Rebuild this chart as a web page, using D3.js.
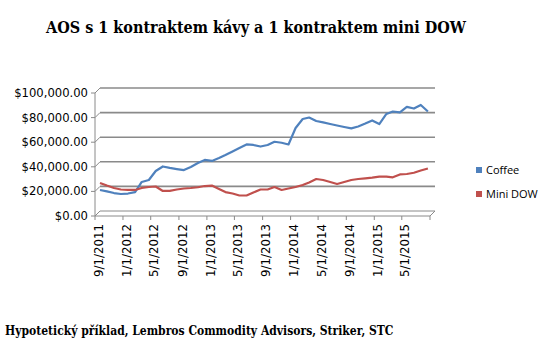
<!DOCTYPE html>
<html>
<head>
<meta charset="utf-8">
<script src="https://cdn.jsdelivr.net/npm/d3@7"></script>
<style>
  body { margin: 0; background: #fff; }
  svg { display: block; }
</style>
</head>
<body>
<div id="chart"></div>
<script>
// monthly values, 9/2011 .. 8/2015 (in dollars)
var coffee = [17100, 15900, 14600, 13800, 14200, 15400, 23600, 25200, 32500, 36200, 35000, 34100,
              33300, 35800, 39000, 41500, 40700, 43100, 45500, 48400, 51200, 54100, 53700, 52400,
              53700, 56300, 55500, 54100, 67500, 74800, 76000, 73200, 72000, 70700, 69500, 68300,
              67200, 68700, 71100, 73600, 70700, 78900, 80900, 80200, 84600, 83300, 86200, 80900];
var miniDow = [22800, 20700, 18700, 17500, 17100, 17100, 18700, 19500, 19900, 16300, 16300, 17500,
               18300, 18700, 19300, 20300, 20700, 17900, 15400, 14200, 12600, 12600, 15000, 17500,
               17500, 19500, 17100, 18300, 19500, 21100, 23200, 26000, 25200, 23600, 22000, 23600,
               25200, 26000, 26600, 27200, 28000, 28000, 27400, 29700, 30100, 31100, 32900, 34600];
var seriesNames = ["Coffee", "Mini DOW"];
var colors = ["#4F81BD", "#C0504D"];
var yTicks = [0, 20000, 40000, 60000, 80000, 100000];
var xTickLabels = ["9/1/2011", "1/1/2012", "5/1/2012", "9/1/2012", "1/1/2013", "5/1/2013",
                   "9/1/2013", "1/1/2014", "5/1/2014", "9/1/2014", "1/1/2015", "5/1/2015"];

var width = 557, height = 362;
var svg = d3.select("#chart").append("svg").attr("width", width).attr("height", height);

var start = new Date(2011, 8, 1), end = new Date(2015, 8, 1);
var months = d3.timeMonth.range(start, end);
var depth = 5; // 3d wall offset

var xFront = d3.scaleTime().domain([start, end]).range([95, 430]);
var xBack = d3.scaleTime().domain([start, end]).range([95 + depth, 430 + depth]);
var yFront = d3.scaleLinear().domain([0, 100000]).range([216, 93]);
var yBack = d3.scaleLinear().domain([0, 100000]).range([216 - depth, 93 - depth]);

var gridColor = "#8a8a8a";

// back wall gridlines
svg.selectAll("line.grid").data(yTicks.slice(1)).enter().append("line")
    .attr("class", "grid")
    .attr("x1", xBack(start)).attr("x2", xBack(end))
    .attr("y1", function(d){ return yBack(d); }).attr("y2", function(d){ return yBack(d); })
    .style("stroke", gridColor).style("stroke-width", 1.6);

// left side diagonals from axis ticks to wall
svg.selectAll("line.diag").data(yTicks).enter().append("line")
    .attr("x1", xFront(start)).attr("y1", function(d){ return yFront(d); })
    .attr("x2", xBack(start)).attr("y2", function(d){ return yBack(d); })
    .style("stroke", gridColor).style("stroke-width", 1);

// floor
var floor = [[xFront(start), yFront(0)], [xFront(end), yFront(0)], [xBack(end), yBack(0)], [xBack(start), yBack(0)]];
svg.append("path")
    .attr("d", d3.line()(floor) + "Z")
    .style("fill", "#fff").style("stroke", gridColor).style("stroke-width", 1);

// y axis
svg.append("line")
    .attr("x1", xFront(start)).attr("x2", xFront(start))
    .attr("y1", yFront(100000)).attr("y2", yFront(0))
    .style("stroke", gridColor).style("stroke-width", 1);
svg.selectAll("line.ytick").data(yTicks).enter().append("line")
    .attr("x1", xFront(start) - 4).attr("x2", xFront(start))
    .attr("y1", function(d){ return yFront(d); }).attr("y2", function(d){ return yFront(d); })
    .style("stroke", gridColor);
var fmt = d3.format("$,.2f");
svg.selectAll("text.ylab").data(yTicks).enter().append("text")
    .attr("x", 88).attr("y", function(d){ return yFront(d); })
    .attr("dy", "0.35em")
    .attr("text-anchor", "end")
    .style("font-family", "'DejaVu Sans', sans-serif").style("font-size", "11.6px").style("fill", "#000")
    .text(function(d){ return fmt(d); });

// x ticks
var xTicks = d3.timeMonth.every(4).range(start, d3.timeMonth.offset(end, 1));
svg.selectAll("line.xtick").data(xTicks).enter().append("line")
    .attr("x1", function(d){ return xFront(d); }).attr("x2", function(d){ return xFront(d); })
    .attr("y1", yFront(0)).attr("y2", yFront(0) + 4)
    .style("stroke", gridColor);
svg.selectAll("text.xlab").data(xTickLabels).enter().append("text")
    .attr("transform", function(d, i){ return "translate(" + (xFront(xTicks[i]) + 3.5) + "," + 224 + ") rotate(-90)"; })
    .attr("dy", "0.35em")
    .attr("text-anchor", "end")
    .style("font-family", "'DejaVu Sans', sans-serif").style("font-size", "11.8px").style("fill", "#000")
    .text(function(d){ return d; });

// series
var line = d3.line()
    .x(function(d, i){ return xBack(months[i]); })
    .y(function(d){ return yBack(d); });
[coffee, miniDow].forEach(function(s, k){
    svg.append("path")
        .attr("d", line(s))
        .style("fill", "none")
        .style("stroke", colors[k])
        .style("stroke-width", 2.2)
        .style("stroke-linejoin", "round");
});

// legend
var legend = svg.selectAll("g.legend").data(seriesNames).enter().append("g")
    .attr("transform", function(d, i){ return "translate(476," + (167 + i * 24) + ")"; });
legend.append("rect").attr("width", 6).attr("height", 6)
    .style("fill", function(d, i){ return colors[i]; });
legend.append("text").attr("x", 10).attr("y", 3).attr("dy", "0.35em")
    .style("font-family", "'Open Sans', sans-serif").style("font-size", "11px")
    .text(function(d){ return d; });

// title and note
svg.append("text")
    .attr("x", 256).attr("y", 33)
    .attr("text-anchor", "middle")
    .style("font-family", "'DejaVu Serif', serif").style("font-weight", "bold")
    .style("font-stretch", "condensed").style("font-size", "16px")
    .text("AOS s 1 kontraktem kávy a 1 kontraktem mini DOW");
svg.append("text")
    .attr("x", 5).attr("y", 335)
    .style("font-family", "'DejaVu Serif', serif").style("font-weight", "bold")
    .style("font-stretch", "condensed").style("font-size", "12px")
    .text("Hypotetický příklad, Lembros Commodity Advisors, Striker, STC");
</script>
</body>
</html>
